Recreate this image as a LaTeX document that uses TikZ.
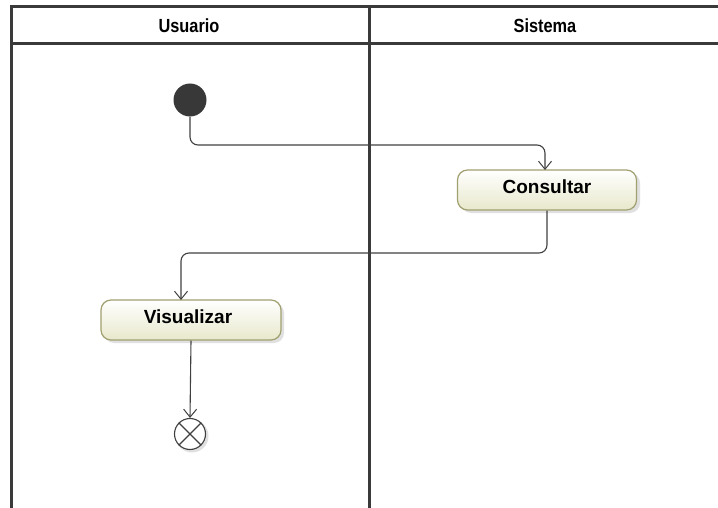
\documentclass[tikz,border=0pt]{standalone}
\usepackage{fontspec}
\setmainfont{Liberation Sans}
\usetikzlibrary{arrows.meta}
\definecolor{frame}{HTML}{3A3A3A}
\definecolor{actfill}{HTML}{E8E8CC}
\definecolor{actdraw}{HTML}{A0A070}
\tikzset{
  lane/.style={draw=frame, line width=3pt},
  action/.style={draw=actdraw, line width=1.2pt, rounded corners=10pt, minimum width=179pt, minimum height=40pt,
    top color=white, bottom color=actfill, inner sep=0pt},
  acttext/.style={font=\bfseries\fontsize{19}{22}\selectfont, inner sep=0pt},
  shadowbox/.style={fill=black!12, rounded corners=10pt},
  flow/.style={draw=black!75, line width=1.1pt, rounded corners=8pt, -{Straight Barb[length=8pt,width=13pt,line width=1pt]}},
  head/.style={font=\bfseries\fontsize{19}{22}\selectfont\addfontfeature{FakeStretch=0.86}},
}
\begin{document}
\begin{tikzpicture}[x=1pt,y=-1pt]
\useasboundingbox (0,0) rectangle (718,508);
% frame
\draw[lane] (11,520) -- (11,7) -- (730,7);
\draw[lane] (11,44) -- (730,44);
\draw[lane] (369,7) -- (369,520);
\node[head] (husr) at (189,26) {Usuario};
\node[head] (hsis) at (545,26) {Sistema};
% shadows
\fill[shadowbox] (461,173) rectangle (640,213);
\fill[shadowbox] (104,303) rectangle (284,343);
% nodes
\node[circle, fill=black!78, minimum size=33pt, inner sep=0pt] (start) at (190,100) {};
\node[action] (cons) at (547,190) {};
\node[acttext] (consl) at (547,187) {Consultar};
\node[action, minimum width=180pt] (vis) at (191,320) {};
\node[acttext] (visl) at (188,317) {Visualizar};
\fill[black!12] (192,436) circle (16.5pt);
\node[circle, draw=black!75, fill=white, line width=1.1pt, minimum size=31pt, inner sep=0pt] (fin) at (190,434) {};
\draw[black!75, line width=1.1pt] (fin.north west) -- (fin.south east) (fin.north east) -- (fin.south west);
% connectors
\draw[flow] (start.south) |- (545,145) -- (545,170);
\draw[flow] (cons.south) |- (181,253) -- (181,300);
\draw[flow] (vis.south) -- (fin.north);
\end{tikzpicture}
\end{document}
